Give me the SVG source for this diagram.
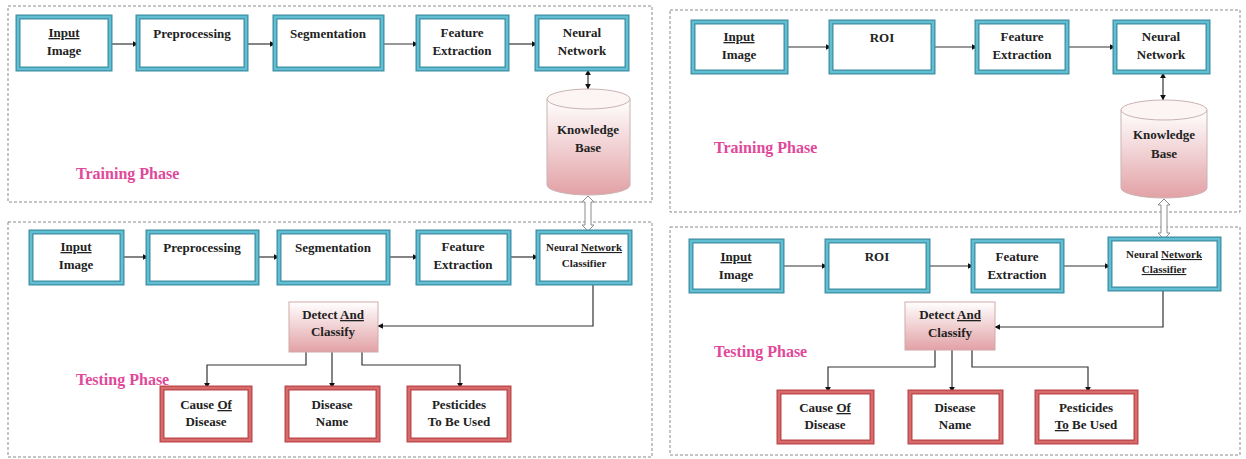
<svg xmlns="http://www.w3.org/2000/svg" width="1246" height="459" viewBox="0 0 1246 459">
  <defs>
    <style>
      .frame { fill: none; stroke: #8a8a8a; stroke-width: 1; stroke-dasharray: 3 2; }
      .blue-out { fill: #ffffff; stroke: #3d8ea3; stroke-width: 5; }
      .blue-in { fill: none; stroke: #62bfd3; stroke-width: 2.5; }
      .red-out { fill: #ffffff; stroke: #b9474a; stroke-width: 5; }
      .red-in { fill: none; stroke: #d86a6c; stroke-width: 2.5; }
      .lbl { font-family: "Liberation Serif", "Times New Roman", serif; font-weight: bold; font-size: 13px; fill: #222222; text-anchor: middle; }
      .small { font-size: 11px; }
      .phase { font-family: "Liberation Serif", "Times New Roman", serif; font-weight: bold; font-size: 16px; fill: #e0489a; }
      .u { text-decoration: underline; }
      .wire { fill: none; stroke: #333333; stroke-width: 1.2; }
      .hollow { fill: #ffffff; stroke: #8c8c8c; stroke-width: 1; }
      .detect { fill: url(#pinkFade); stroke: #d2a9aa; stroke-width: 1; }
      .cyl { fill: url(#pinkFade); stroke: #c9b3b4; stroke-width: 1; }
      .cyltop { fill: #fdf4f4; stroke: #c9b3b4; stroke-width: 1; }
    </style>
    <linearGradient id="pinkFade" x1="0" y1="0" x2="0" y2="1">
      <stop offset="0" stop-color="#ffffff"/>
      <stop offset="1" stop-color="#e2a1a5"/>
    </linearGradient>
    <marker id="head" viewBox="0 0 10 10" refX="9" refY="5" markerWidth="6" markerHeight="6" markerUnits="userSpaceOnUse" orient="auto-start-reverse">
      <path d="M0,0 L10,5 L0,10 z" fill="#111111"/>
    </marker>
  </defs>

  <!-- phase frames -->
  <g id="frames">
    <rect class="frame" x="8" y="6" width="644" height="196"/>
    <rect class="frame" x="8" y="222" width="644" height="235"/>
    <rect class="frame" x="670" y="10" width="570" height="202"/>
    <rect class="frame" x="670" y="227" width="570" height="228"/>
    <text class="phase" x="76" y="179">Training Phase</text>
    <text class="phase" x="76" y="385">Testing Phase</text>
    <text class="phase" x="714" y="153">Training Phase</text>
    <text class="phase" x="714" y="357">Testing Phase</text>
  </g>

  <!-- connectors -->
  <g id="connectors">
    <!-- left training row -->
    <line class="wire" x1="110" y1="44" x2="138" y2="44" marker-end="url(#head)"/>
    <line class="wire" x1="246" y1="44" x2="275" y2="44" marker-end="url(#head)"/>
    <line class="wire" x1="382" y1="44" x2="418" y2="44" marker-end="url(#head)"/>
    <line class="wire" x1="507" y1="44" x2="537" y2="44" marker-end="url(#head)"/>
    <line class="wire" x1="588" y1="70" x2="588" y2="89" marker-start="url(#head)" marker-end="url(#head)"/>
    <!-- left testing row -->
    <line class="wire" x1="122" y1="257" x2="148" y2="257" marker-end="url(#head)"/>
    <line class="wire" x1="257" y1="257" x2="279" y2="257" marker-end="url(#head)"/>
    <line class="wire" x1="388" y1="257" x2="418" y2="257" marker-end="url(#head)"/>
    <line class="wire" x1="509" y1="257" x2="538" y2="257" marker-end="url(#head)"/>
    <polyline class="wire" points="593,283 593,326 378,326" marker-end="url(#head)"/>
    <polyline class="wire" points="306,352 306,365 207,365 207,388" marker-end="url(#head)"/>
    <line class="wire" x1="332" y1="352" x2="332" y2="388" marker-end="url(#head)"/>
    <polyline class="wire" points="362,352 362,365 460,365 460,388" marker-end="url(#head)"/>
    <polygon class="hollow" points="588,196 594,202 591,202 591,225 594,225 588,231 582,225 585,225 585,202 582,202"/>
    <!-- right training row -->
    <line class="wire" x1="786" y1="47" x2="831" y2="47" marker-end="url(#head)"/>
    <line class="wire" x1="933" y1="47" x2="977" y2="47" marker-end="url(#head)"/>
    <line class="wire" x1="1067" y1="47" x2="1115" y2="47" marker-end="url(#head)"/>
    <line class="wire" x1="1163" y1="73" x2="1163" y2="100" marker-start="url(#head)" marker-end="url(#head)"/>
    <!-- right testing row -->
    <line class="wire" x1="782" y1="266" x2="827" y2="266" marker-end="url(#head)"/>
    <line class="wire" x1="928" y1="266" x2="973" y2="266" marker-end="url(#head)"/>
    <line class="wire" x1="1062" y1="266" x2="1110" y2="266" marker-end="url(#head)"/>
    <polyline class="wire" points="1163,289 1163,327 995,327" marker-end="url(#head)"/>
    <polyline class="wire" points="935,350 935,367 828,367 828,392" marker-end="url(#head)"/>
    <line class="wire" x1="952" y1="350" x2="952" y2="392" marker-end="url(#head)"/>
    <polyline class="wire" points="972,350 972,367 1088,367 1088,392" marker-end="url(#head)"/>
    <polygon class="hollow" points="1164,199 1170,205 1167,205 1167,233 1170,233 1164,239 1158,233 1161,233 1161,205 1158,205"/>
  </g>

  <!-- left training nodes -->
  <g id="l-train-input">
    <rect class="blue-out" x="18" y="17" width="92" height="52"/><rect class="blue-in" x="18" y="17" width="92" height="52"/>
    <text class="lbl" x="64" y="37"><tspan class="u">Input</tspan></text>
    <text class="lbl" x="64" y="55">Image</text>
  </g>
  <g id="l-train-pre">
    <rect class="blue-out" x="138" y="17" width="108" height="52"/><rect class="blue-in" x="138" y="17" width="108" height="52"/>
    <text class="lbl" x="192" y="38">Preprocessing</text>
  </g>
  <g id="l-train-seg">
    <rect class="blue-out" x="275" y="17" width="107" height="52"/><rect class="blue-in" x="275" y="17" width="107" height="52"/>
    <text class="lbl" x="328" y="38">Segmentation</text>
  </g>
  <g id="l-train-feat">
    <rect class="blue-out" x="418" y="17" width="89" height="52"/><rect class="blue-in" x="418" y="17" width="89" height="52"/>
    <text class="lbl" x="462" y="37">Feature</text>
    <text class="lbl" x="462" y="55">Extraction</text>
  </g>
  <g id="l-train-nn">
    <rect class="blue-out" x="537" y="17" width="90" height="52"/><rect class="blue-in" x="537" y="17" width="90" height="52"/>
    <text class="lbl" x="582" y="37">Neural</text>
    <text class="lbl" x="582" y="55">Network</text>
  </g>
  <g id="l-kb">
    <path class="cyl" d="M547,99 L547,185 A41.5,10 0 0 0 630,185 L630,99 z"/>
    <ellipse class="cyltop" cx="588.5" cy="99" rx="41.5" ry="10"/>
    <text class="lbl" x="588" y="134">Knowledge</text>
    <text class="lbl" x="588" y="152">Base</text>
  </g>

  <!-- left testing nodes -->
  <g id="l-test-input">
    <rect class="blue-out" x="31" y="232" width="91" height="51"/><rect class="blue-in" x="31" y="232" width="91" height="51"/>
    <text class="lbl" x="76" y="251"><tspan class="u">Input</tspan></text>
    <text class="lbl" x="76" y="269">Image</text>
  </g>
  <g id="l-test-pre">
    <rect class="blue-out" x="148" y="232" width="109" height="51"/><rect class="blue-in" x="148" y="232" width="109" height="51"/>
    <text class="lbl" x="202" y="252">Preprocessing</text>
  </g>
  <g id="l-test-seg">
    <rect class="blue-out" x="279" y="232" width="109" height="51"/><rect class="blue-in" x="279" y="232" width="109" height="51"/>
    <text class="lbl" x="333" y="252">Segmentation</text>
  </g>
  <g id="l-test-feat">
    <rect class="blue-out" x="418" y="232" width="91" height="51"/><rect class="blue-in" x="418" y="232" width="91" height="51"/>
    <text class="lbl" x="463" y="251">Feature</text>
    <text class="lbl" x="463" y="269">Extraction</text>
  </g>
  <g id="l-test-nnc">
    <rect class="blue-out" x="538" y="232" width="92" height="51"/><rect class="blue-in" x="538" y="232" width="92" height="51"/>
    <text class="lbl small" x="584" y="251">Neural <tspan class="u">Network</tspan></text>
    <text class="lbl small" x="584" y="267">Classifier</text>
  </g>
  <g id="l-detect">
    <rect class="detect" x="289" y="302" width="89" height="50"/>
    <text class="lbl" x="333" y="319">Detect <tspan class="u">And</tspan></text>
    <text class="lbl" x="333" y="336">Classify</text>
  </g>
  <g id="l-cause">
    <rect class="red-out" x="162" y="388" width="88" height="52"/><rect class="red-in" x="162" y="388" width="88" height="52"/>
    <text class="lbl" x="206" y="409">Cause <tspan class="u">Of</tspan></text>
    <text class="lbl" x="206" y="426">Disease</text>
  </g>
  <g id="l-name">
    <rect class="red-out" x="287" y="388" width="91" height="52"/><rect class="red-in" x="287" y="388" width="91" height="52"/>
    <text class="lbl" x="332" y="409">Disease</text>
    <text class="lbl" x="332" y="426">Name</text>
  </g>
  <g id="l-pest">
    <rect class="red-out" x="409" y="388" width="100" height="52"/><rect class="red-in" x="409" y="388" width="100" height="52"/>
    <text class="lbl" x="459" y="409">Pesticides</text>
    <text class="lbl" x="459" y="426">To Be Used</text>
  </g>

  <!-- right training nodes -->
  <g id="r-train-input">
    <rect class="blue-out" x="693" y="22" width="93" height="50"/><rect class="blue-in" x="693" y="22" width="93" height="50"/>
    <text class="lbl" x="739" y="41"><tspan class="u">Input</tspan></text>
    <text class="lbl" x="739" y="59">Image</text>
  </g>
  <g id="r-train-roi">
    <rect class="blue-out" x="831" y="22" width="102" height="50"/><rect class="blue-in" x="831" y="22" width="102" height="50"/>
    <text class="lbl" x="882" y="42">ROI</text>
  </g>
  <g id="r-train-feat">
    <rect class="blue-out" x="977" y="22" width="90" height="50"/><rect class="blue-in" x="977" y="22" width="90" height="50"/>
    <text class="lbl" x="1022" y="41">Feature</text>
    <text class="lbl" x="1022" y="59">Extraction</text>
  </g>
  <g id="r-train-nn">
    <rect class="blue-out" x="1115" y="22" width="93" height="50"/><rect class="blue-in" x="1115" y="22" width="93" height="50"/>
    <text class="lbl" x="1161" y="41">Neural</text>
    <text class="lbl" x="1161" y="59">Network</text>
  </g>
  <g id="r-kb">
    <path class="cyl" d="M1121,110 L1121,188 A43,10 0 0 0 1207,188 L1207,110 z"/>
    <ellipse class="cyltop" cx="1164" cy="110" rx="43" ry="10"/>
    <text class="lbl" x="1164" y="139">Knowledge</text>
    <text class="lbl" x="1164" y="158">Base</text>
  </g>

  <!-- right testing nodes -->
  <g id="r-test-input">
    <rect class="blue-out" x="691" y="241" width="91" height="50"/><rect class="blue-in" x="691" y="241" width="91" height="50"/>
    <text class="lbl" x="736" y="261"><tspan class="u">Input</tspan></text>
    <text class="lbl" x="736" y="279">Image</text>
  </g>
  <g id="r-test-roi">
    <rect class="blue-out" x="827" y="241" width="101" height="50"/><rect class="blue-in" x="827" y="241" width="101" height="50"/>
    <text class="lbl" x="877" y="261">ROI</text>
  </g>
  <g id="r-test-feat">
    <rect class="blue-out" x="973" y="241" width="89" height="50"/><rect class="blue-in" x="973" y="241" width="89" height="50"/>
    <text class="lbl" x="1017" y="261">Feature</text>
    <text class="lbl" x="1017" y="279">Extraction</text>
  </g>
  <g id="r-test-nnc">
    <rect class="blue-out" x="1110" y="239" width="109" height="50"/><rect class="blue-in" x="1110" y="239" width="109" height="50"/>
    <text class="lbl small" x="1164" y="258">Neural <tspan class="u">Network</tspan></text>
    <text class="lbl small" x="1164" y="273"><tspan class="u">Classifier</tspan></text>
  </g>
  <g id="r-detect">
    <rect class="detect" x="905" y="302" width="90" height="48"/>
    <text class="lbl" x="950" y="319">Detect <tspan class="u">And</tspan></text>
    <text class="lbl" x="950" y="337">Classify</text>
  </g>
  <g id="r-cause">
    <rect class="red-out" x="779" y="392" width="93" height="50"/><rect class="red-in" x="779" y="392" width="93" height="50"/>
    <text class="lbl" x="825" y="412">Cause <tspan class="u">Of</tspan></text>
    <text class="lbl" x="825" y="429">Disease</text>
  </g>
  <g id="r-name">
    <rect class="red-out" x="910" y="392" width="91" height="50"/><rect class="red-in" x="910" y="392" width="91" height="50"/>
    <text class="lbl" x="955" y="412">Disease</text>
    <text class="lbl" x="955" y="429">Name</text>
  </g>
  <g id="r-pest">
    <rect class="red-out" x="1037" y="392" width="99" height="50"/><rect class="red-in" x="1037" y="392" width="99" height="50"/>
    <text class="lbl" x="1086" y="412">Pesticides</text>
    <text class="lbl" x="1086" y="429"><tspan class="u">To</tspan> Be Used</text>
  </g>
</svg>
